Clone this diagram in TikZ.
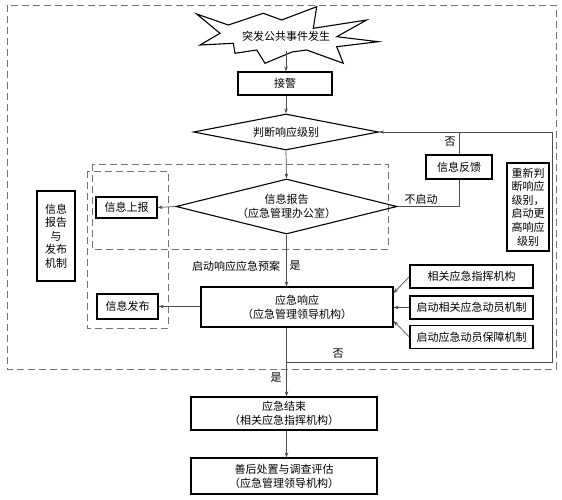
\documentclass[tikz,border=0pt]{standalone}
\usepackage{fontspec}
\setmainfont{Noto Sans CJK SC}
\usetikzlibrary{shapes.geometric,arrows.meta}
\begin{document}
\begin{tikzpicture}[x=1pt,y=-1pt,
  font=\fontsize{11}{14}\selectfont,
  box/.style={draw=black,line width=1.1pt,inner sep=0pt,align=center},
  dia/.style={draw=black,line width=1.1pt,shape=diamond,aspect=5,inner sep=0pt,align=center},
  conn/.style={draw=black!70,line width=0.7pt},
  arr/.style={conn,-{Stealth[length=5pt,width=3.5pt]}},
  dashbox/.style={draw=black!55,line width=0.8pt,dash pattern=on 7pt off 4pt},
  lbl/.style={inner sep=1pt}]
\useasboundingbox (0,0) rectangle (562,500);
% dashed frames
\draw[dashbox] (7,5) rectangle (556,369);
\draw[dashbox] (92,164) rectangle (388,249);
\draw[dashbox] (87,171) rectangle (168,328);
% starburst
\draw[line width=1.1pt,fill=white] (196.7,14) -- (228.3,25) -- (263.3,13.3) -- (281.7,20) -- (316.7,6.7) -- (313.3,28.3) -- (366.7,20) -- (336.7,36.7) -- (378.3,41.7) -- (336.7,46.7) -- (343.3,63.3) -- (306.7,50) -- (292,52) -- (265,63.3) -- (256.7,50) -- (235,53.3) -- (233.3,43.3) -- (200,45) -- (220,33.3) -- cycle;
\node (star) at (286,36) {突发公共事件发生};
\coordinate (starb) at (286,51);
% nodes
\node[box,minimum width=94pt,minimum height=23pt] (jj) at (285,83.5) {接警};
\node[dia,minimum width=185pt,minimum height=36pt] (pd) at (286,132) {判断响应级别};
\node[dia,minimum width=193pt,minimum height=55pt] (xb) at (286.5,206.5) {信息报告\\（应急管理办公室）};
\node[box,minimum width=61pt,minimum height=21pt] (xsb) at (126.5,207.5) {信息上报};
\node[box,minimum width=61pt,minimum height=25pt] (xfb) at (127.5,306.5) {信息发布};
\node[box,minimum width=38pt,minimum height=90pt,font=\fontsize{11}{13.5}\selectfont] (mech) at (56,236) {信息\\报告\\与\\发布\\机制};
\node[box,minimum width=66pt,minimum height=24pt] (fk) at (459,167) {信息反馈};
\node[box,minimum width=42pt,minimum height=88pt,font=\fontsize{11}{13.6}\selectfont] (re) at (528,207) {重新判\\断响应\\级别，\\启动更\\高响应\\级别};
\node[box,minimum width=192pt,minimum height=40pt] (xy) at (297,307) {应急响应\\（应急管理领导机构）};
\node[box,minimum width=123pt,minimum height=23pt] (r1) at (471.5,276.5) {相关应急指挥机构};
\node[box,minimum width=123pt,minimum height=23pt] (r2) at (471.5,307.5) {启动相关应急动员机制};
\node[box,minimum width=123pt,minimum height=23pt] (r3) at (471.5,337) {启动应急动员保障机制};
\node[box,minimum width=186pt,minimum height=33pt] (js) at (284,413.5) {应急结束\\（相关应急指挥机构）};
\node[box,minimum width=186pt,minimum height=36pt] (sh) at (284,476) {善后处置与调查评估\\（应急管理领导机构）};
% connectors
\draw[arr] (starb) -- (starb |- jj.north);
\draw[arr] (jj.south -| pd.north) -- (pd.north);
\draw[arr] (pd.south) -- (xb.north);
\draw[arr] (xb.west) -- (xsb.east);
\draw[arr] (xb.south) -- (xb.south |- xy.north);
\draw[arr] (xy.west |- xfb.east) -- (xfb.east);
\draw[conn] (xb.east) -- (xb.east -| fk.south) -- (fk.south);
\draw[conn] (fk.north) -- (fk.north |- pd.east);
\coordinate (br) at (286,362);
\coordinate (rc) at (552,362);
\draw[arr] (br) -- (rc) -- (rc |- pd.east) -- (pd.east);
\draw[arr] (xb.south |- xy.south) -- (xb.south |- js.north);
\draw[arr] (js.south -| xb.south) -- (xb.south |- sh.north);
\draw[arr] (r1.west) -- (xy.east |- 0,293);
\draw[arr] (r2.west) -- (xy.east |- r2.west);
\draw[arr] (r3.west) -- (xy.east |- 0,321);
% labels
\node[lbl] (l1) at (450,142) {否};
\node[lbl] (l2) at (421,199) {不启动};
\node[lbl] (l3) at (236,266) {启动响应应急预案};
\node[lbl] (l4) at (295,266) {是};
\node[lbl] (l5) at (338,354) {否};
\node[lbl] (l6) at (276,378) {是};
\end{tikzpicture}
\end{document}
